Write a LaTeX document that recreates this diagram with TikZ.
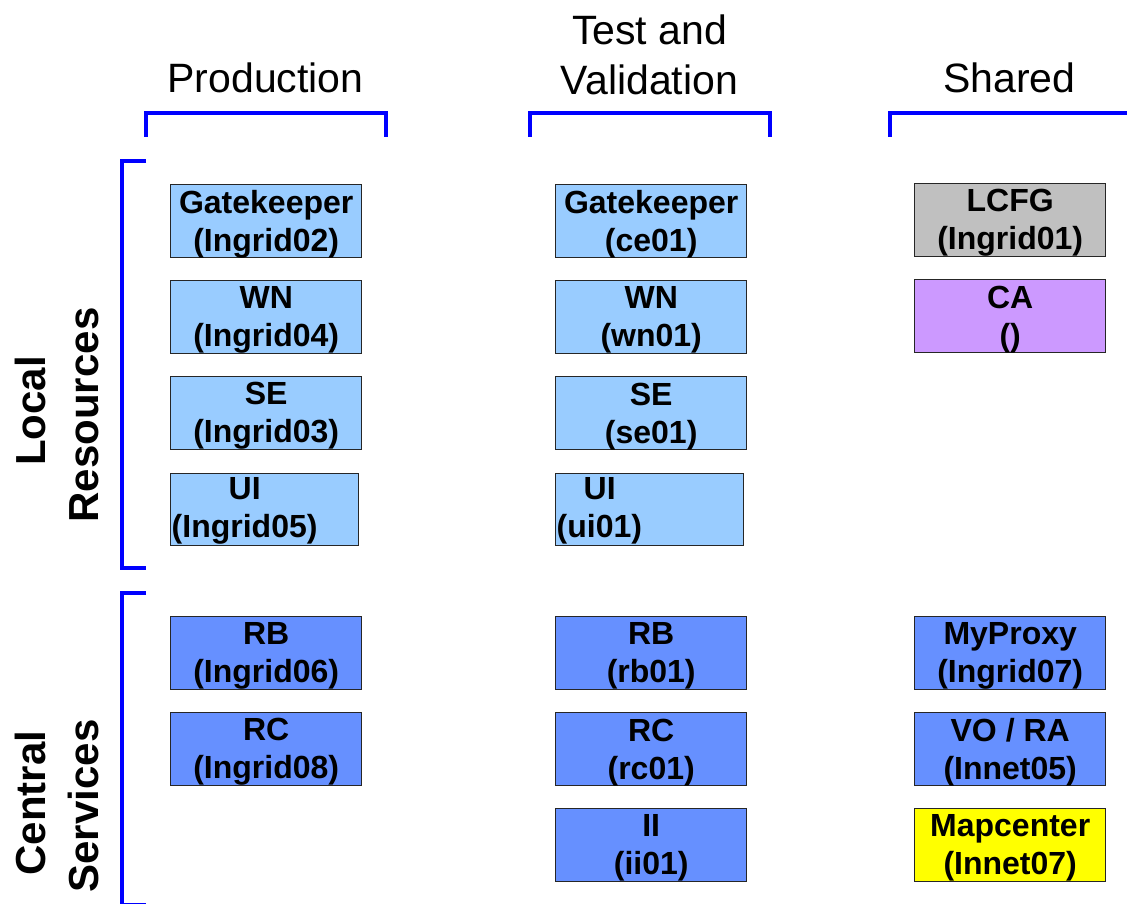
\documentclass[tikz,border=0pt]{standalone}
\usepackage{fontspec}
\setmainfont{Liberation Sans}
\definecolor{lightblu}{HTML}{99CCFF}
\definecolor{midblu}{HTML}{6690FF}
\definecolor{greybox}{HTML}{C0C0C0}
\definecolor{purplebox}{HTML}{CC99FF}
\definecolor{yellowbox}{HTML}{FFFF00}
\definecolor{brk}{HTML}{0000FF}
\tikzset{
  hostbox/.style={draw=black!85, line width=1.4pt, minimum width=191pt, minimum height=73pt,
    inner sep=0pt, anchor=north west},
  uibox/.style={draw=black!85, line width=1.4pt, minimum width=188pt, minimum height=72pt,
    inner sep=0pt, anchor=north west},
  boxtext/.style={inner sep=0pt, align=center, yshift=-3pt,
    font=\bfseries\fontsize{32}{38}\selectfont},
  uitext/.style={inner xsep=1pt, inner ysep=0pt, text width=186pt, align=left, yshift=-1pt,
    font=\bfseries\fontsize{32}{38}\selectfont},
  bracketline/.style={draw=brk, line width=4pt},
  heading/.style={font=\fontsize{41}{50}\selectfont, anchor=base},
  sidelabel/.style={font=\bfseries\fontsize{42}{45}\selectfont, anchor=base, rotate=90}
}
\begin{document}
\begin{tikzpicture}[x=1pt,y=-1pt]
\useasboundingbox (0,0) rectangle (1127,904);
% headings
\node[heading] (hprod) at (265.5,93) {Production};
\node[heading] (htest1) at (649.5,45) {Test and};
\node[heading] (htest2) at (649.5,95) {Validation};
\node[heading] (hshared) at (1009.5,93) {Shared};
% side labels
\node[sidelabel] (slocal) at (45,411) {Local};
\node[sidelabel] (sres) at (98,415) {Resources};
\node[sidelabel] (scent) at (45,803) {Central};
\node[sidelabel] (sserv) at (98,806) {Services};
% brackets
\draw[bracketline] (146,137) -- (146,113) -- (386,113) -- (386,137);
\draw[bracketline] (530,137) -- (530,113) -- (770,113) -- (770,137);
\draw[bracketline] (890,137) -- (890,113) -- (1135,113);
\draw[bracketline] (146,161) -- (122,161) -- (122,568) -- (146,568);
\draw[bracketline] (146,593) -- (122,593) -- (122,904.5) -- (146,904.5);
% production column
\node[hostbox, fill=lightblu, label={[boxtext]center:Gatekeeper\\(Ingrid02)}] (pgk) at (170,184) {};
\node[hostbox, fill=lightblu, label={[boxtext]center:WN\\(Ingrid04)}] (pwn) at (170,280) {};
\node[hostbox, fill=lightblu, label={[boxtext]center:SE\\(Ingrid03)}] (pse) at (170,376) {};
\node[uibox, fill=lightblu, label={[uitext]center:\hspace*{57pt}UI\\(Ingrid05)}] (pui) at (170,473) {};
\node[hostbox, fill=midblu, label={[boxtext]center:RB\\(Ingrid06)}] (prb) at (170,616) {};
\node[hostbox, fill=midblu, label={[boxtext]center:RC\\(Ingrid08)}] (prc) at (170,712) {};
% test column
\node[hostbox, fill=lightblu, label={[boxtext]center:Gatekeeper\\(ce01)}] (tgk) at (555,184) {};
\node[hostbox, fill=lightblu, label={[boxtext]center:WN\\(wn01)}] (twn) at (555,280) {};
\node[hostbox, fill=lightblu, label={[boxtext]center:SE\\(se01)}] (tse) at (555,376) {};
\node[uibox, fill=lightblu, label={[uitext]center:\hspace*{27pt}UI\\(ui01)}] (tui) at (555,473) {};
\node[hostbox, fill=midblu, label={[boxtext]center:RB\\(rb01)}] (trb) at (555,616) {};
\node[hostbox, fill=midblu, label={[boxtext]center:RC\\(rc01)}] (trc) at (555,712) {};
\node[hostbox, fill=midblu, label={[boxtext]center:II\\(ii01)}] (tii) at (555,808) {};
% shared column
\node[hostbox, fill=greybox, label={[boxtext]center:LCFG\\(Ingrid01)}] (slcfg) at (914,183) {};
\node[hostbox, fill=purplebox, label={[boxtext]center:CA\\()}] (sca) at (914,279) {};
\node[hostbox, fill=midblu, label={[boxtext]center:MyProxy\\(Ingrid07)}] (smp) at (914,616) {};
\node[hostbox, fill=midblu, label={[boxtext]center:VO / RA\\(Innet05)}] (svo) at (914,712) {};
\node[hostbox, fill=yellowbox, label={[boxtext]center:Mapcenter\\(Innet07)}] (smap) at (914,808) {};
\end{tikzpicture}
\end{document}
